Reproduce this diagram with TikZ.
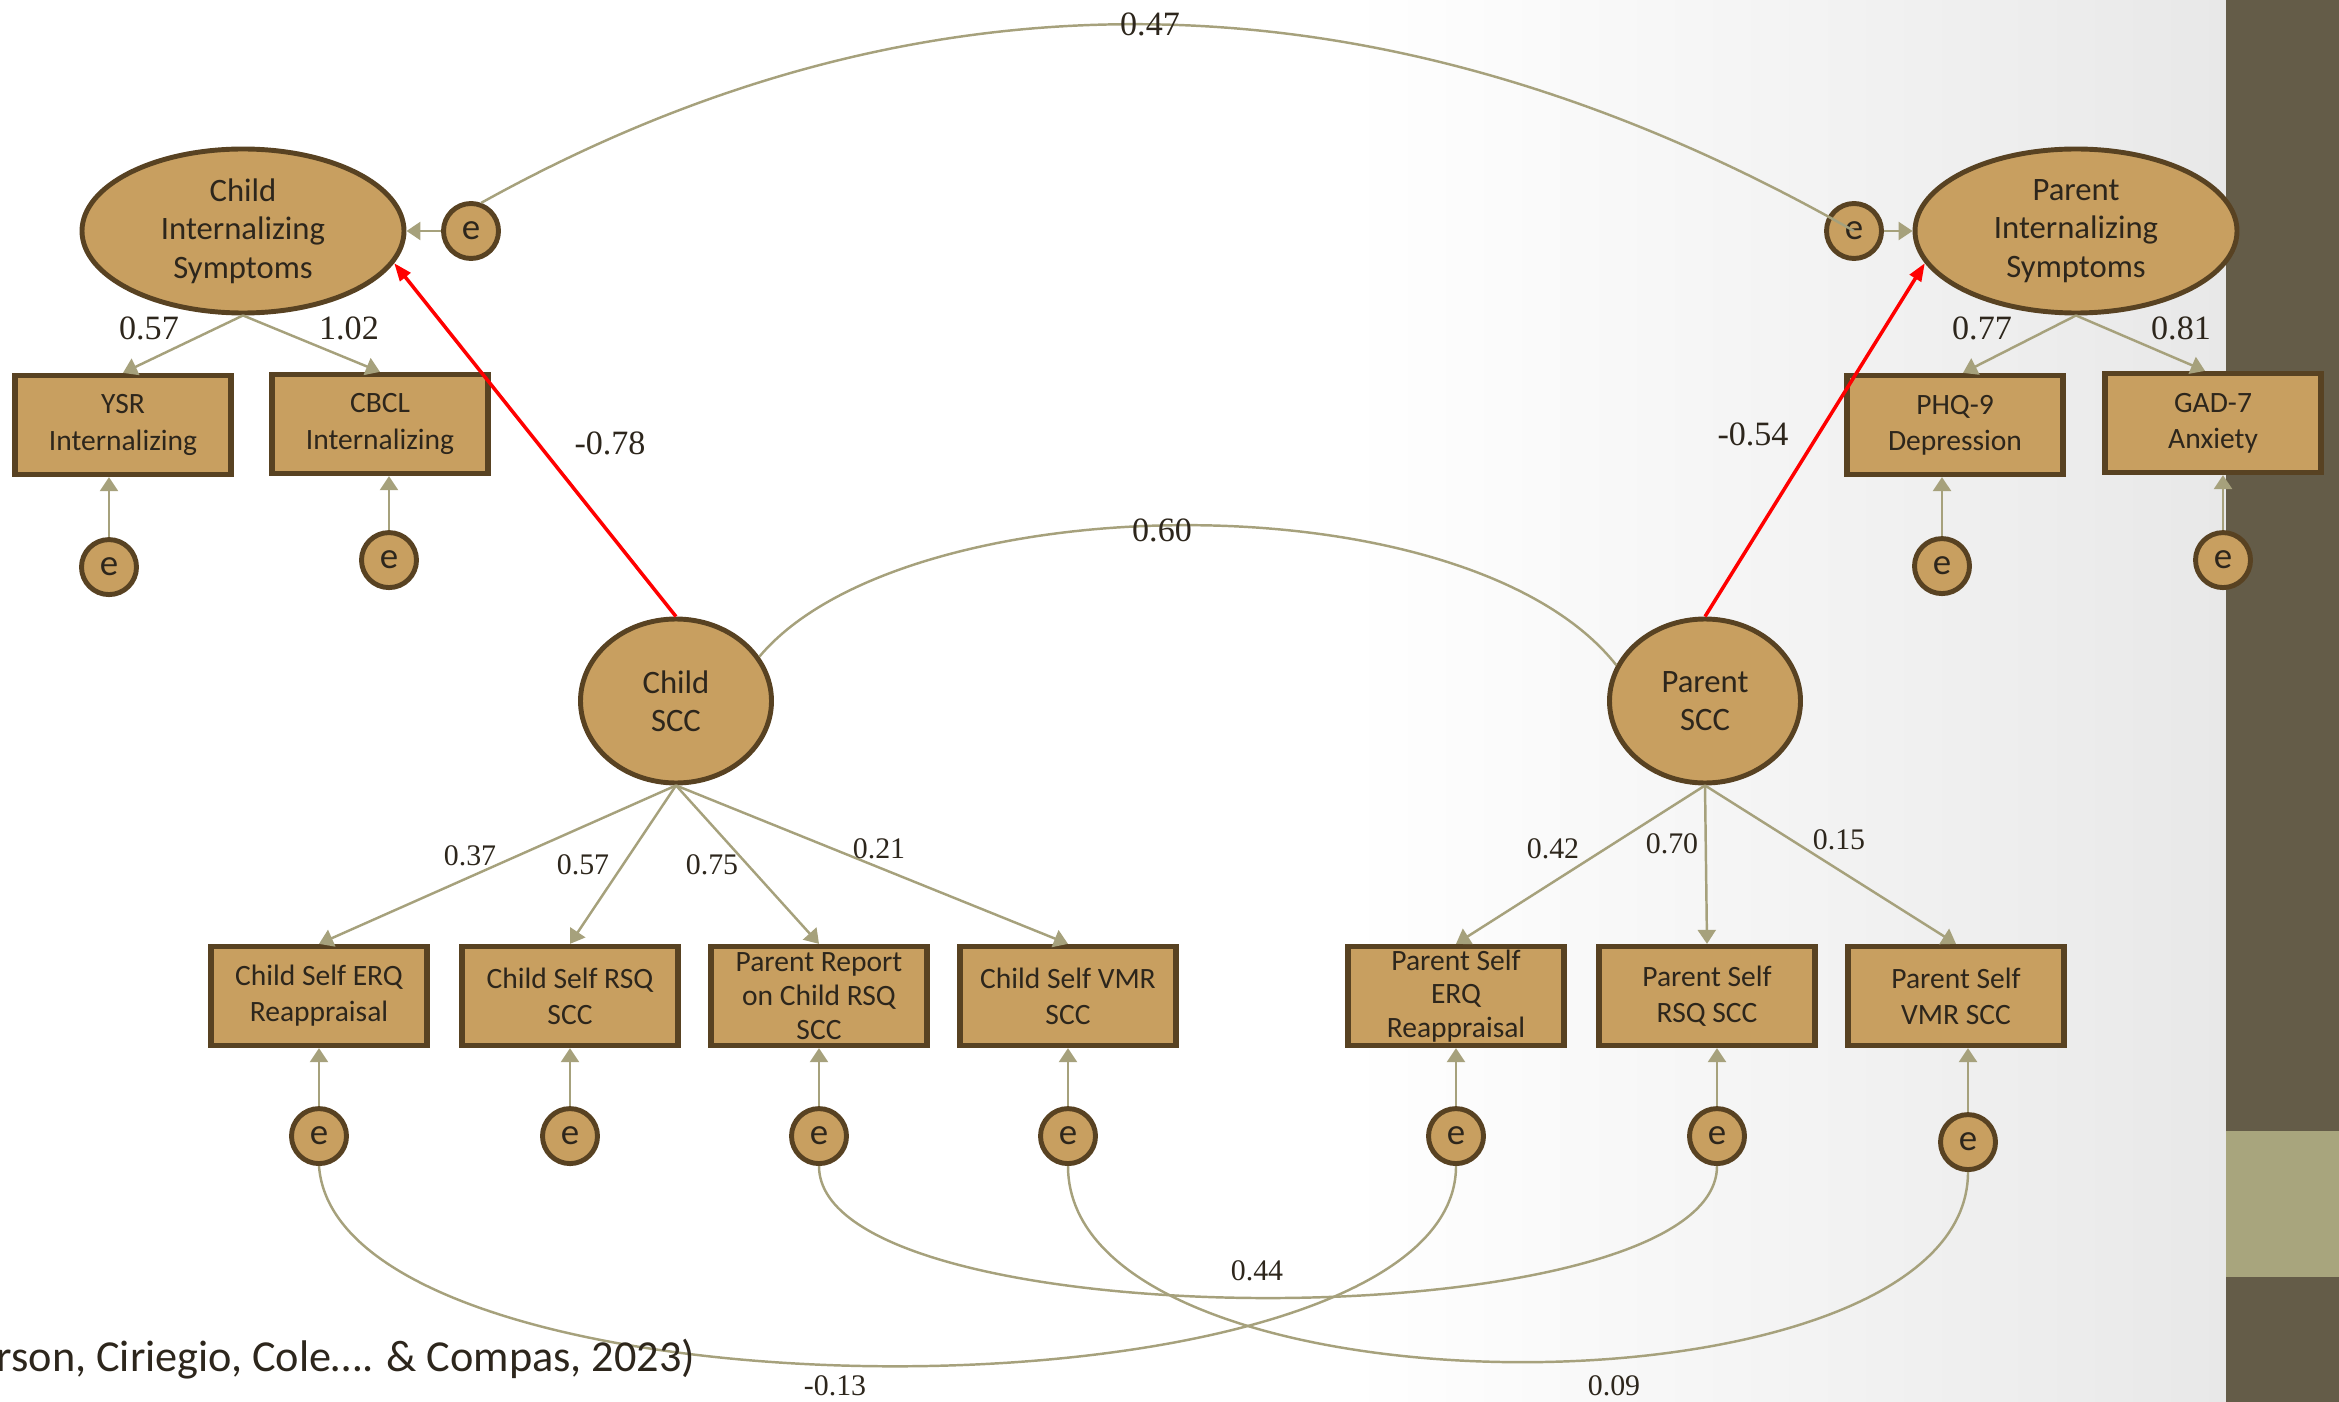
\documentclass[tikz,border=0pt]{standalone}
\usepackage{fontspec}
\setmainfont{Carlito}
\newfontfamily\numfont{Liberation Serif}
\usetikzlibrary{positioning,shapes,arrows.meta}

\definecolor{semfill}{RGB}{200,159,96}
\definecolor{semedge}{RGB}{88,66,34}
\definecolor{semlink}{RGB}{166,161,124}
\definecolor{semink}{RGB}{45,38,28}
\definecolor{sidedark}{RGB}{100,92,72}
\definecolor{sidelight}{RGB}{168,165,125}

\tikzset{
  latent/.style={ellipse, draw=semedge, line width=1.4pt, fill=semfill, text=semink,
    align=center, inner sep=0pt, font=\fontsize{9.3}{10.9}\selectfont},
  obs/.style={rectangle, draw=semedge, line width=1.5pt, fill=semfill, text=semink,
    align=center, inner sep=0pt, minimum width=21.6mm, minimum height=9.9mm,
    font=\fontsize{8.4}{10.3}\selectfont},
  err/.style={circle, draw=semedge, line width=1.4pt, fill=semfill, text=semink,
    inner sep=0pt, minimum size=5.5mm, font=\fontsize{10.5}{11}\selectfont},
  load/.style={draw=semlink, line width=0.7pt, -{Triangle[length=1.4mm,width=1.8mm]}},
  cov/.style={draw=semlink, line width=0.7pt},
  reg/.style={draw=red, line width=1pt, -{Triangle[length=1.8mm,width=1.3mm]}},
  coef/.style={text=semink, inner sep=0pt, font=\numfont\fontsize{9.7}{11}\selectfont},
  coefs/.style={text=semink, inner sep=0pt, font=\numfont\fontsize{8.5}{10}\selectfont}
}

\begin{document}
\begin{tikzpicture}[x=0.1mm, y=-0.1mm, node distance=5.8mm]

  \useasboundingbox (0,0) rectangle (2339,1402);
  % slide background
  \shade[left color=white, right color=black!9] (1350,0) rectangle (2226,1402);
  \fill[sidedark] (2226,0) rectangle (2339,1402);
  \fill[sidelight] (2226,1131) rectangle (2339,1277);

  % latent variables
  \node (cis) [latent, minimum width=32.2mm, minimum height=16.4mm] at (243,231) {Child\\Internalizing\\Symptoms};
  \node (pis) [latent, minimum width=32.2mm, minimum height=16.4mm] at (2076,231) {Parent\\Internalizing\\Symptoms};
  \node (csc) [latent, minimum width=19.1mm, minimum height=16.4mm] at (676,701) {Child\\SCC};
  \node (psc) [latent, minimum width=19.1mm, minimum height=16.4mm] at (1705,701) {Parent\\SCC};

  % indicators
  \node (ysr)  [obs] at (123,425) {YSR\\Internalizing};
  \node (cbcl) [obs] at (380,424) {CBCL\\Internalizing};
  \node (phq)  [obs] at (1955,425) {PHQ-9\\Depression};
  \node (gad)  [obs] at (2213,423) {GAD-7\\Anxiety};

  \node (cerq) [obs] at (319,996) {Child Self ERQ\\Reappraisal};
  \node (crsq) [obs] at (570,996) {Child Self RSQ\\SCC};
  \node (prc)  [obs, font=\fontsize{8.4}{9.6}\selectfont] at (819,996) {Parent Report\\on Child RSQ\\SCC};
  \node (cvmr) [obs] at (1068,996) {Child Self VMR\\SCC};
  \node (perq) [obs, font=\fontsize{8.4}{9.6}\selectfont] at (1456,996) {Parent Self\\ERQ\\Reappraisal};
  \node (prsq) [obs] at (1707,996) {Parent Self\\RSQ SCC};
  \node (pvmr) [obs] at (1956,996) {Parent Self\\VMR SCC};

  % error terms
  \node (ecis)  [err] at (471,231) {e};
  \node (epis)  [err] at (1854,231) {e};
  \node (eysr)  [err, below=6mm of ysr, xshift=-1.4mm] {e};
  \node (ecbcl) [err, below=5.4mm of cbcl, xshift=0.9mm] {e};
  \node (ephq)  [err, below=5.9mm of phq, xshift=-1.3mm] {e};
  \node (egad)  [err, below=5.5mm of gad, xshift=1mm] {e};
  \node (ecerq) [err, below=of cerq] {e};
  \node (ecrsq) [err, below=of crsq] {e};
  \node (eprc)  [err, below=of prc] {e};
  \node (ecvmr) [err, below=of cvmr] {e};
  \node (eperq) [err, below=of perq] {e};
  \node (eprsq) [err, below=of prsq, xshift=1mm] {e};
  \node (epvmr) [err, below=6.4mm of pvmr, xshift=1.2mm] {e};

  % loadings
  \draw[load] (cis.south) -- (ysr.north);
  \draw[load] (cis.south) -- (cbcl.north);
  \draw[load] (pis.south) -- ([xshift=0.8mm]phq.north);
  \draw[load] (pis.south) -- ([xshift=-0.8mm]gad.north);
  \foreach \b in {cerq,crsq,prc,cvmr} \draw[load] (csc.south) -- (\b.north);
  \foreach \b in {perq,prsq,pvmr} \draw[load] (psc.south) -- (\b.north);

  % residuals
  \foreach \b in {ysr,cbcl,phq,gad,cerq,crsq,prc,cvmr,perq,prsq,pvmr}
    \draw[load] (e\b) -- (e\b |- \b.south);
  \draw[load] (ecis) -- (cis);
  \draw[load] (epis) -- (pis);

  % structural paths
  \draw[reg] (csc.north) -- (cis.-12);
  \draw[reg] (psc.north) -- (pis.192);

  % covariances
  \draw[cov] (ecis.70) .. controls +(450,-250) and +(-462,-263) .. (epis.center);
  \draw[cov] (csc.28) .. controls +(144,-172) and +(-150,-190) .. (psc.158);
  \draw[cov] (ecerq.south) .. controls +(20,267) and +(0,267) .. (eperq.south);
  \draw[cov] (eprc.south) .. controls +(0,176) and +(0,176) .. (eprsq.south);
  \draw[cov] (ecvmr.south) .. controls +(0,260) and +(0,255) .. (epvmr.south);

  % estimates
  \node (k1) [coef] at (149,328) {0.57};
  \node (k2) [coef] at (349,328) {1.02};
  \node (k3) [coef] at (1982,328) {0.77};
  \node (k4) [coef] at (2181,328) {0.81};
  \node (b1) [coef] at (610,443) {-0.78};
  \node (b2) [coef] at (1753,434) {-0.54};
  \node (r1) [coef] at (1150,24) {0.47};
  \node (r2) [coef] at (1162,530) {0.60};
  \node (k5) [coefs] at (470,856) {0.37};
  \node (k6) [coefs] at (583,865) {0.57};
  \node (k7) [coefs] at (712,865) {0.75};
  \node (k8) [coefs] at (879,849) {0.21};
  \node (k9) [coefs] at (1553,849) {0.42};
  \node (k10) [coefs] at (1672,844) {0.70};
  \node (k11) [coefs] at (1839,840) {0.15};
  \node (r3) [coefs] at (835,1386) {-0.13};
  \node (r4) [coefs] at (1257,1271) {0.44};
  \node (r5) [coefs] at (1614,1386) {0.09};

  % citation
  \node (cite) [anchor=west, inner sep=0pt, text=semink, font=\fontsize{12.6}{14}\selectfont] at (-4,1359) {rson, Ciriegio, Cole…. \& Compas, 2023)};

\end{tikzpicture}
\end{document}
